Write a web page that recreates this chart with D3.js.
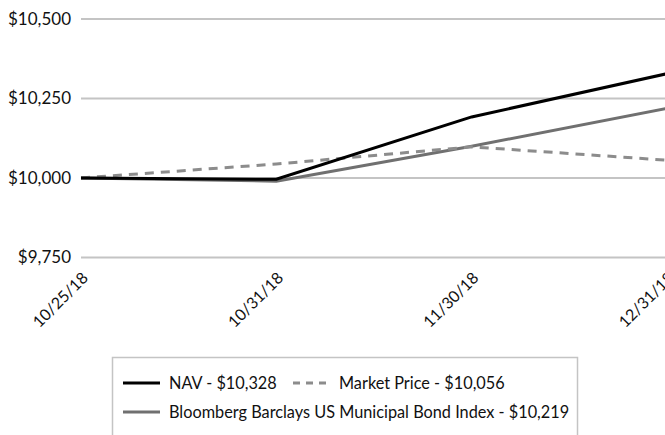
<!DOCTYPE html>
<html>
<head>
<meta charset="utf-8">
<script src="https://cdn.jsdelivr.net/npm/d3@7"></script>
<style>
  body { margin: 0; background: #fff; }
  svg { display: block; font-family: Lato, "Open Sans", sans-serif; }
</style>
</head>
<body>
<div id="chart"></div>
<script>
const width = 665;
const height = 435;

const dates = ["10/25/18", "10/31/18", "11/30/18", "12/31/18"];
const nav = [10000, 9996, 10192, 10328];
const marketPrice = [10000, 10044, 10098, 10056];
const bondIndex = [10000, 9990, 10100, 10219];
const yTicks = [9750, 10000, 10250, 10500];

const series = [
    { name: "NAV - $10,328", values: nav, color: "#000", dash: null, width: 3 },
    { name: "Market Price - $10,056", values: marketPrice, color: "#8c8c8c", dash: "9,7", width: 3 },
    { name: "Bloomberg Barclays US Municipal Bond Index - $10,219", values: bondIndex, color: "#707070", dash: null, width: 3 },
];

const svg = d3.select("#chart")
    .append("svg")
    .attr("width", width)
    .attr("height", height);

const xScale = d3.scalePoint()
    .domain(dates)
    .range([81, 667]);

const yScale = d3.scaleLinear()
    .domain([9750, 10500])
    .range([257.5, 19]);

const fmt = d => "$" + d3.format(",")(d);

// gridlines
svg.append("g")
    .selectAll("line")
    .data(yTicks)
    .join("line")
    .attr("x1", 81)
    .attr("x2", width)
    .attr("y1", d => yScale(d))
    .attr("y2", d => yScale(d))
    .attr("stroke", "#c4c4c4")
    .attr("stroke-width", 2);

// y labels
svg.append("g")
    .selectAll("text")
    .data(yTicks)
    .join("text")
    .attr("x", 71)
    .attr("y", d => yScale(d))
    .attr("dy", "0.35em")
    .attr("text-anchor", "end")
    .attr("font-size", 17)
    .attr("fill", "#111")
    .text(fmt);

// x labels, rotated
svg.append("g")
    .selectAll("text")
    .data(dates)
    .join("text")
    .attr("text-anchor", "end")
    .attr("font-size", 16)
    .attr("fill", "#111")
    .attr("transform", d => `translate(${xScale(d) + 8}, ${279}) rotate(-45)`)
    .text(d => d);

const line = d3.line()
    .x((d, i) => xScale(dates[i]))
    .y(d => yScale(d));

// draw index first, then market, then nav on top
[series[2], series[1], series[0]].forEach(s => {
    svg.append("path")
        .datum(s.values)
        .attr("fill", "none")
        .attr("stroke", s.color)
        .attr("stroke-width", s.width)
        .attr("stroke-dasharray", s.dash)
        .attr("d", line);
});

// legend
const legend = svg.append("g");
legend.append("rect")
    .attr("x", 112.5)
    .attr("y", 357.5)
    .attr("width", 465)
    .attr("height", 90)
    .attr("fill", "#fff")
    .attr("stroke", "#c4c4c4")
    .attr("stroke-width", 1.5);

const legendPos = [
    { x: 123, y: 383 },
    { x: 293, y: 383 },
    { x: 123, y: 412 },
];

series.forEach((s, i) => {
    const p = legendPos[i];
    legend.append("line")
        .attr("x1", p.x)
        .attr("x2", p.x + 37)
        .attr("y1", p.y)
        .attr("y2", p.y)
        .attr("stroke", s.color)
        .attr("stroke-width", 3)
        .attr("stroke-dasharray", s.dash ? "7,6" : null);
    legend.append("text")
        .attr("x", p.x + 46)
        .attr("y", p.y)
        .attr("dy", "0.35em")
        .attr("font-size", 16.3)
        .attr("fill", "#111")
        .text(s.name);
});
</script>
</body>
</html>
